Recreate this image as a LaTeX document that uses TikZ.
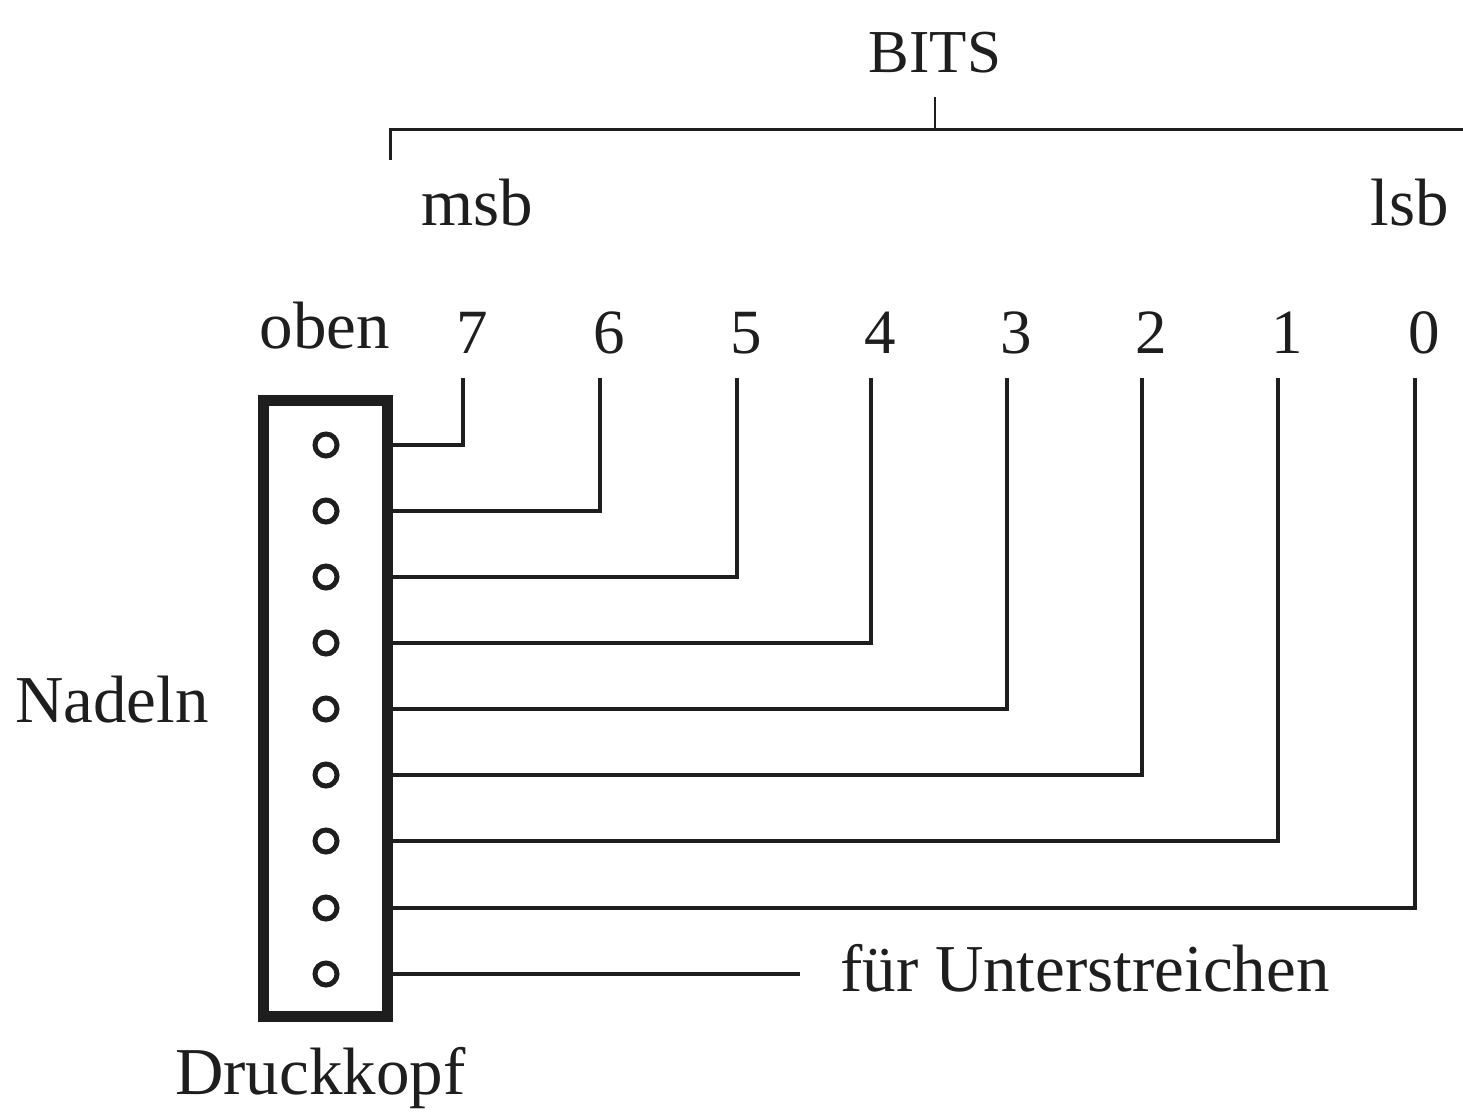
\documentclass[tikz,border=0pt]{standalone}
\usepackage{fontspec}
\setmainfont{Liberation Serif}
\definecolor{ink}{HTML}{1E1E1E}
\begin{document}
\begin{tikzpicture}[x=1pt,y=-1pt,
  lbl/.style={font=\fontsize{67}{80}\selectfont, text=ink, inner sep=0pt, anchor=base},
  digit/.style={lbl, font=\fontsize{63}{76}\selectfont},
  wire/.style={draw=ink, line width=4.2pt, line join=miter},
  bracket/.style={draw=ink, line width=3pt},
  pin/.style={circle, draw=ink, line width=5pt, minimum size=22pt, inner sep=0pt},
  head/.style={draw=ink, line width=11pt, minimum width=124pt, minimum height=616pt, inner sep=0pt}]
\useasboundingbox[fill=white] (0,0) rectangle (1463,1111);

% print head with its nine needles
\node[head] (kopf) at (325.5,708.5) {};
\foreach \i/\y in {1/445,2/511,3/577,4/643,5/709,6/775,7/841,8/908,9/974}
  \node[pin] (n\i) at (326,\y) {};

% bit columns: top ends of the wires and their numbers
\foreach \b/\x in {7/463,6/600,5/737,4/871,3/1007,2/1142,1/1278,0/1415} {
  \coordinate (t\b) at (\x,378);
  \node[digit] (d\b) at (\x+9,353) {\b};
}

% wiring from each needle to its bit
\foreach \b/\p in {7/1,6/2,5/3,4/4,3/5,2/6,1/7,0/8}
  \draw[wire] (n\p -| kopf.east) -| (t\b);

% ninth needle: underline
\coordinate (uend) at (800,974);
\draw[wire] (n9 -| kopf.east) -- (uend);
\node[lbl, anchor=base west] (unter) at (840,991) {für Unterstreichen};

% BITS bracket
\node[lbl, font=\fontsize{61}{72}\selectfont] (bits) at (935,72) {BITS};
\coordinate (bl) at (390,160);
\coordinate (br) at (1463,129);
\coordinate (tk) at (935,97);
\draw[bracket, line cap=butt] (bl) |- (br);
\draw[bracket, line width=2.5pt] (tk) -- (tk |- br);

% labels
\node[lbl] (msb) at (477,225) {msb};
\node[lbl] (lsb) at (1410,225) {lsb};
\node[lbl] (oben) at (325,348) {oben};
\node[lbl, anchor=base west] (nadeln) at (15,722) {Nadeln};
\node[lbl, anchor=base west] (druck) at (175,1094) {Druckkopf};
\end{tikzpicture}
\end{document}
